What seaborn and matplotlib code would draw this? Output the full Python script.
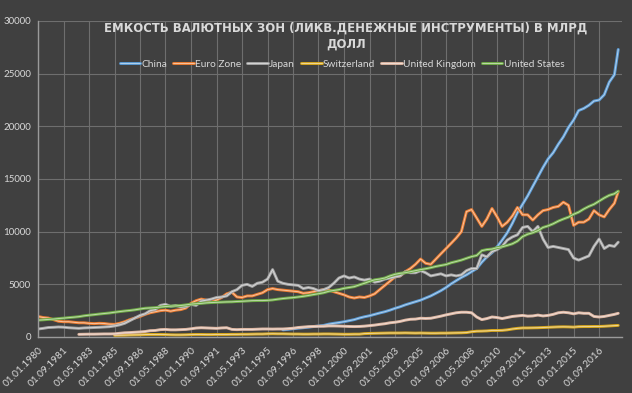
import numpy as np
import pandas as pd
import seaborn as sns
import matplotlib.pyplot as plt
import matplotlib.patheffects as pe
from matplotlib.lines import Line2D
from matplotlib.colors import to_rgb

# данные: значения каждые 4 месяца (янв, май, сен), плюс декабрь 2017
dates = pd.date_range('1980-01-01', '2017-09-01', freq='4MS').append(pd.DatetimeIndex(['2017-12-01']))

china = [np.nan] * 48 + [
    680, 720, 780, 830, 880, 930, 990, 1040, 1100, 1220, 1300, 1370,
    1450, 1550, 1650, 1800, 1920, 2020, 2150, 2280, 2400, 2550, 2720, 2870,
    3050, 3200, 3350, 3500, 3700, 3900, 4150, 4400, 4700, 5050, 5350, 5650,
    5900, 6200, 6500, 7100, 7600, 8000, 8550, 9200, 9900, 10800, 11800, 12600,
    13400, 14300, 15200, 16100, 16900, 17500, 18300, 19000, 19900, 20600, 21500, 21700,
    22000, 22400, 22500, 23000, 24200, 24900, 27300]

euro = [
    1950, 1850, 1800, 1650, 1500, 1450, 1450, 1400, 1350, 1350, 1300, 1270,
    1300, 1280, 1220, 1200, 1300, 1450, 1650, 1800, 1950, 2150, 2300, 2400,
    2500, 2550, 2450, 2550, 2600, 2750, 3200, 3450, 3600, 3500, 3300, 3500,
    3750, 4100, 4250, 3800, 3750, 3900, 3900, 4050, 4200, 4500, 4600, 4500,
    4450, 4400, 4350, 4300, 4150, 4200, 4300, 4400, 4500, 4450, 4300, 4150,
    4000, 3800, 3700, 3800, 3750, 3900, 4100, 4500, 4900, 5300, 5700, 5800,
    6200, 6500, 6900, 7400, 7000, 6900, 7400, 7900, 8400, 8900, 9400, 10000,
    11900, 12100, 11300, 10500, 11200, 12200, 11400, 10500, 10900, 11500, 12300, 11600,
    11600, 11100, 11600, 12000, 12100, 12300, 12400, 12800, 12500, 10600, 10900, 10900,
    11200, 12000, 11600, 11400, 12100, 12700, 13800]

japan = [
    760, 820, 900, 920, 950, 930, 880, 850, 820, 860, 880, 900,
    920, 950, 980, 1050, 1150, 1300, 1550, 1800, 2050, 2200, 2500, 2600,
    3000, 3100, 2900, 3000, 2850, 2900, 3100, 3000, 3400, 3500, 3600, 3750,
    3800, 3900, 4300, 4500, 4900, 5000, 4800, 5100, 5200, 5500, 6400, 5300,
    5100, 5000, 4950, 4900, 4600, 4700, 4600, 4400, 4500, 4700, 5100, 5600,
    5800, 5600, 5700, 5500, 5400, 5500, 5200, 5300, 5500, 5600, 5700, 5800,
    6200, 6100, 6100, 6300, 6100, 5800, 5900, 6000, 5800, 5900, 5800, 5900,
    6300, 6500, 6500, 7800, 7600, 8100, 8300, 8600, 9200, 9500, 9700, 10400,
    10500, 10000, 10500, 9300, 8500, 8600, 8500, 8400, 8300, 7500, 7300, 7500,
    7700, 8600, 9300, 8400, 8700, 8600, 9000]

switzerland = [np.nan] * 15 + [
    150, 160, 170, 190, 200, 210, 230, 240, 240,
    240, 230, 210, 200, 200, 210, 230, 240, 240, 230, 230, 240,
    240, 240, 250, 250, 260, 260, 270, 280, 280, 300, 310, 300,
    300, 290, 280, 280, 270, 270, 280, 280, 290, 290, 280, 270,
    260, 260, 270, 270, 320, 340, 350, 360, 370, 380, 380, 380,
    390, 380, 370, 380, 370, 360, 360, 370, 370, 380, 390, 400,
    420, 500, 550, 560, 580, 620, 620, 630, 680, 760, 820, 860,
    860, 870, 880, 900, 920, 940, 960, 970, 960, 940, 980, 990,
    990, 1000, 1000, 1020, 1050, 1080, 1100]

uk = [np.nan] * 8 + [
    250, 260, 270, 270,
    280, 290, 290, 300, 350, 400, 420, 450, 480, 520, 600, 620,
    700, 720, 680, 680, 700, 720, 780, 850, 880, 860, 840, 820,
    860, 880, 720, 700, 720, 720, 720, 740, 760, 760, 750, 760,
    760, 790, 830, 900, 940, 980, 1000, 1020, 1020, 1050, 1050, 1040,
    1020, 1000, 990, 1000, 1030, 1080, 1130, 1200, 1260, 1350, 1400, 1480,
    1600, 1680, 1700, 1780, 1760, 1780, 1880, 1980, 2100, 2200, 2300, 2350,
    2350, 2300, 1900, 1650, 1750, 1900, 1850, 1750, 1850, 1950, 2000, 2050,
    1980, 2000, 2080, 2000, 2050, 2150, 2300, 2350, 2300, 2200, 2300, 2250,
    2250, 1950, 1900, 1950, 2050, 2150, 2250]

us = [
    1600, 1630, 1670, 1700, 1750, 1790, 1840, 1880, 1930, 2010, 2070, 2120,
    2180, 2230, 2280, 2350, 2410, 2470, 2520, 2580, 2660, 2730, 2760, 2790,
    2840, 2890, 2930, 2950, 2990, 3050, 3120, 3160, 3190, 3240, 3270, 3290,
    3310, 3330, 3340, 3370, 3390, 3420, 3450, 3460, 3460, 3480, 3520, 3590,
    3650, 3700, 3740, 3800, 3860, 3940, 4030, 4110, 4200, 4340, 4420, 4500,
    4620, 4700, 4780, 4950, 5100, 5280, 5430, 5500, 5600, 5800, 5950, 6050,
    6100, 6200, 6300, 6400, 6480, 6580, 6700, 6790, 6880, 7050, 7170, 7300,
    7470, 7630, 7740, 8200, 8300, 8350, 8480, 8560, 8700, 8850, 9100, 9530,
    9760, 9900, 10100, 10400, 10550, 10750, 11000, 11200, 11380, 11650, 11850, 12150,
    12400, 12600, 12900, 13200, 13450, 13600, 13850]

series_names = ['China', 'Euro Zone', 'Japan', 'Switzerland', 'United Kingdom', 'United States']
series_colors = ['#5B9BD5', '#ED7D31', '#A5A5A5', '#D9A81E', '#DDB6A2', '#70AD47']

tick_dates = pd.date_range('1980-01-01', '2016-09-01', freq='20MS')
tick_labels = [d.strftime('%d.%m.%Y') for d in tick_dates]

title_lines = ['ЕМКОСТЬ ВАЛЮТНЫХ ЗОН (ЛИКВ.ДЕНЕЖНЫЕ ИНСТРУМЕНТЫ) В МЛРД', 'ДОЛЛ']

df = pd.DataFrame({'Дата': dates, 'China': china, 'Euro Zone': euro, 'Japan': japan,
                   'Switzerland': switzerland, 'United Kingdom': uk, 'United States': us})
long_df = df.melt(id_vars='Дата', var_name='Зона', value_name='Млрд').dropna()

bg = '#404040'
txt = '#D9D9D9'
sns.set_style('dark', rc={'axes.facecolor': bg, 'figure.facecolor': bg})
plt.rcParams['font.family'] = ['Lato', 'DejaVu Sans']


def double_line(color, width=2.1):
    light = tuple(0.45 * c + 0.55 for c in to_rgb(color))
    return [pe.Stroke(linewidth=width, foreground=color),
            pe.Stroke(linewidth=width * 0.32, foreground=light)]


fig = plt.figure(figsize=(6.32, 3.93), dpi=100)
ax = fig.add_axes([38 / 632, 1 - 337 / 393, 584 / 632, 316 / 393])

palette = dict(zip(series_names, series_colors))
sns.lineplot(data=long_df, x='Дата', y='Млрд', hue='Зона', hue_order=series_names,
             palette=palette, estimator=None, legend=False, linewidth=2.1, ax=ax)
for line, c in zip(ax.lines, series_colors):
    line.set_path_effects(double_line(c))

ax.set_xlim(pd.Timestamp('1980-01-01'), pd.Timestamp('2018-03-01'))
ax.set_ylim(0, 30000)
ax.set_yticks(range(0, 30001, 5000))
ax.set_xticks(tick_dates)
ax.set_xticklabels(tick_labels, rotation=45, ha='right', rotation_mode='anchor')
ax.tick_params(axis='x', colors=txt, labelsize=7.3, length=0, pad=6)
ax.tick_params(axis='y', colors=txt, labelsize=7.0, length=0, pad=5)
ax.set_xlabel('')
ax.set_ylabel('')
ax.grid(True, color='#6E6E6E', linewidth=0.8)
for side in ['top', 'right']:
    ax.spines[side].set_visible(False)
for side in ['left', 'bottom']:
    ax.spines[side].set_color('#9A9A9A')
    ax.spines[side].set_linewidth(1)

fig.text(346 / 632, 1 - 28 / 393, title_lines[0], ha='center', va='center',
         color=txt, fontsize=8.4, fontweight='bold', family='DejaVu Sans')
fig.text(346 / 632, 1 - 44 / 393, title_lines[1], ha='center', va='center',
         color=txt, fontsize=8.4, fontweight='bold', family='DejaVu Sans')

handles = [Line2D([], [], color=c, linewidth=2.1, path_effects=double_line(c)) for c in series_colors]
fig.legend(handles, series_names, loc='center', bbox_to_anchor=(342 / 632, 1 - 64 / 393),
           ncol=6, frameon=False, fontsize=7.3, labelcolor=txt, handlelength=2.0,
           handletextpad=0.15, columnspacing=0.6)

fig.savefig('out.png', dpi=100, facecolor=bg)
